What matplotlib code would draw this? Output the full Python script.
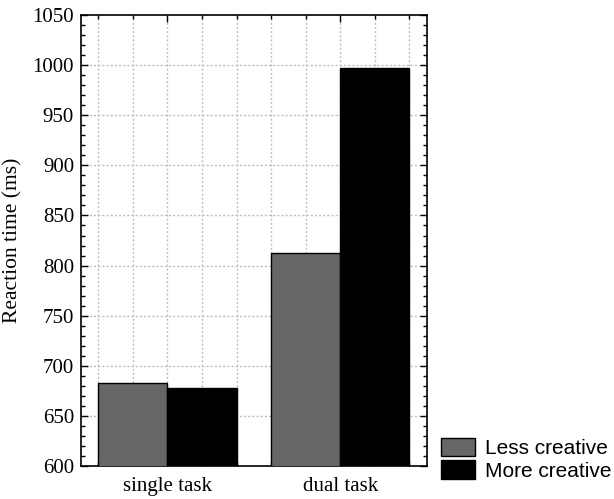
import matplotlib
matplotlib.use("Agg")
import matplotlib.pyplot as plt
import numpy as np
from matplotlib.ticker import MultipleLocator

# data
tasks = ["single task", "dual task"]
groups = ["Less creative", "More creative"]
less_creative = [683, 813]
more_creative = [678, 997]

fig = plt.figure(figsize=(6.14, 4.99), dpi=100)
ax = fig.add_axes([0.132, 0.066, 0.563, 0.904])

x = np.arange(len(tasks))
w = 0.4
ax.bar(x - w / 2, less_creative, w, color="#666666", edgecolor="black", lw=1,
       label=groups[0], zorder=3)
ax.bar(x + w / 2, more_creative, w, color="black", edgecolor="black", lw=1,
       label=groups[1], zorder=3)

ax.set_xlim(-0.5, 1.5)
ax.set_ylim(600, 1050)
ax.set_xticks(x)
ax.set_xticklabels(tasks)
ax.xaxis.set_minor_locator(MultipleLocator(0.2))
ax.yaxis.set_major_locator(MultipleLocator(50))
ax.yaxis.set_minor_locator(MultipleLocator(10))

serif = "Liberation Serif"
for lab in ax.get_xticklabels() + ax.get_yticklabels():
    lab.set_family(serif)
    lab.set_fontsize(15)
ax.set_ylabel("Reaction time (ms)", family=serif, fontsize=15.5, labelpad=7)

ax.tick_params(which="both", direction="in", top=True, right=True, width=1)
ax.tick_params(which="major", length=5)
ax.tick_params(which="minor", length=3)
ax.tick_params(axis="x", which="major", pad=8)
ax.tick_params(axis="y", which="major", pad=5)

# grid: vertical every 0.2, horizontal every 50
for v in np.arange(-0.4, 1.41, 0.2):
    ax.axvline(v, color="#bdbdbd", ls=(0, (1.5, 1.5)), lw=1, zorder=1)
for h in np.arange(650, 1050, 50):
    ax.axhline(h, color="#bdbdbd", ls=(0, (1.5, 1.5)), lw=1, zorder=1)

for s in ax.spines.values():
    s.set_linewidth(1.2)

ax.legend(loc="lower left", bbox_to_anchor=(1.0, -0.065), frameon=False,
          prop={"family": "Liberation Sans", "size": 15},
          handlelength=1.6, handleheight=1.0, handletextpad=0.5,
          labelspacing=0.1, borderpad=0.2)

fig.savefig("out.png", dpi=100)
